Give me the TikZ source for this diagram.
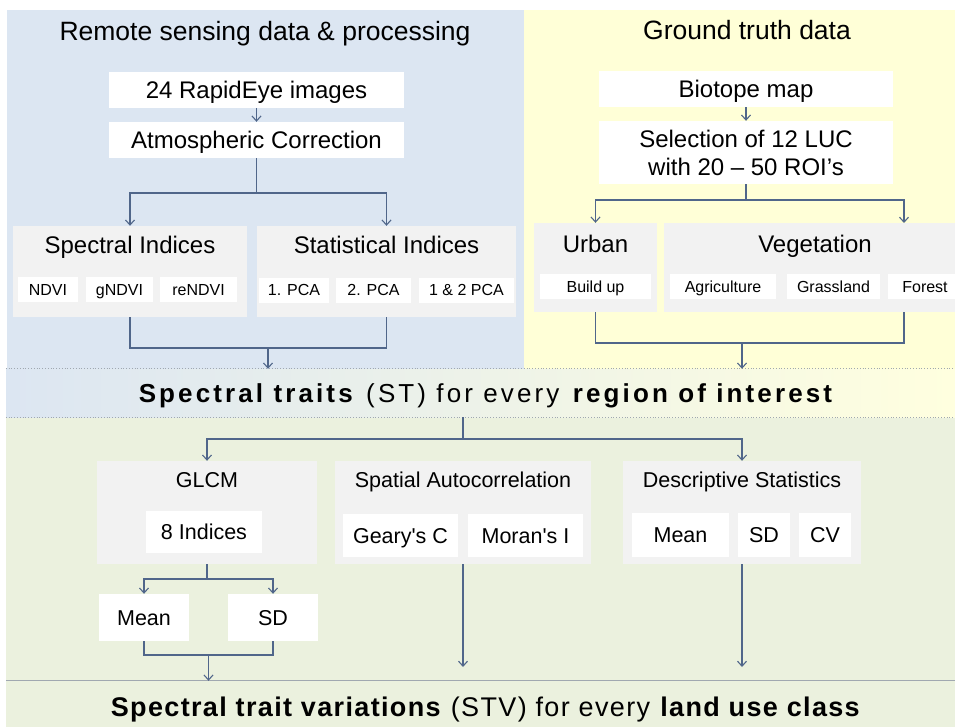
\documentclass[tikz,border=0pt]{standalone}
\usepackage{fontspec}
\setmainfont{Liberation Sans}
\newfontfamily\spacedA[LetterSpace=12]{Liberation Sans}
\newfontfamily\spacedB[LetterSpace=5]{Liberation Sans}
\newfontfamily\nomapfont[Ligatures=TeXOff]{Liberation Sans}
\usetikzlibrary{arrows.meta}
\definecolor{bgblue}{HTML}{DCE6F2}
\definecolor{bgyellow}{HTML}{FFFFD7}
\definecolor{bggreen}{HTML}{EBF1DE}
\definecolor{boxgray}{HTML}{F2F2F2}
\definecolor{ln}{HTML}{50668A}
\definecolor{dotc}{HTML}{A0A8B0}
\tikzset{
  wbox/.style={fill=white, inner sep=0pt},
  gbox/.style={fill=boxgray, inner sep=0pt},
  ttl/.style={inner sep=0pt, anchor=base, font=\fontsize{26.5}{30}\selectfont},
  btl/.style={inner sep=0pt, anchor=base},
  bigf/.style={font=\fontsize{24}{28}\selectfont},
  big/.style={font=\fontsize{24}{28}\selectfont, text height=17pt, text depth=0pt},
  small/.style={font=\fontsize{16}{19}\selectfont, text height=11.5pt, text depth=0pt},
  mid/.style={font=\fontsize{21.5}{25}\selectfont, text height=15.5pt, text depth=0pt},
  conn/.style={draw=ln, line width=1.1pt},
  arr/.style={conn, -{Straight Barb[length=5pt,width=9pt]}},
}
\newcommand{\sq}{{\nomapfont'}}
\begin{document}
\begin{tikzpicture}[x=1pt,y=-1pt]
\useasboundingbox (0,0) rectangle (955,727);
\clip (0,0) rectangle (955,727);
% backgrounds
\fill[bgblue] (7,10) rectangle (524,369);
\fill[bgyellow] (524,10) rectangle (955,369);
\fill[bggreen] (6,417) rectangle (955,681);
\node[minimum width=949pt, minimum height=48pt, inner sep=0pt, left color=bgblue, right color=bgyellow!80!white, shading angle=90] (stband) at (480.5,393) {};
\node[fill=bggreen, minimum width=949pt, minimum height=46pt, inner sep=0pt] (stvband) at (480.5,704) {};
\draw[dotc, dotted, line width=0.8pt] (stband.north west) -- (stband.north east);
\draw[dotc, dotted, line width=0.8pt] (stband.south west) -- (stband.south east);
\draw[dotc, line width=1pt] (stvband.north west) -- (stvband.north east);

% band texts
\node[inner sep=0pt, anchor=base, font=\fontsize{26}{30}\selectfont\spacedA] (sttext) at (487,402) {\textbf{Spectral traits} (ST) for every \textbf{region of interest}};
\node[inner sep=0pt, anchor=base, font=\fontsize{27}{30}\selectfont\spacedB] (stvtext) at (486,716) {\textbf{Spectral trait variations} (STV) for every \textbf{land use class}};

% ---------- top left ----------
\node[ttl] (title1) at (265,41) {Remote sensing data \& processing};
\node[wbox, big, minimum width=295pt, minimum height=36pt] (rapid) at (256.5,90) {24 RapidEye images};
\node[wbox, big, minimum width=295pt, minimum height=36pt] (atmo) at (256.5,140) {Atmospheric Correction};
\node[gbox, minimum width=234pt, minimum height=91pt] (spec) at (130,271.5) {};
\node[btl, bigf] (spect) at (130,254) {Spectral Indices};
\node[wbox, small, minimum width=60pt, minimum height=25pt] (ndvi) at (48,289.5) {NDVI};
\node[wbox, small, minimum width=67pt, minimum height=25pt] (gndvi) at (119.5,289.5) {gNDVI};
\node[wbox, small, minimum width=77pt, minimum height=25pt] (rendvi) at (198.5,289.5) {reNDVI};
\node[gbox, minimum width=259pt, minimum height=91pt] (stat) at (386.5,271.5) {};
\node[btl, bigf] (statt) at (386.5,254) {Statistical Indices};
\node[wbox, small, minimum width=70pt, minimum height=25pt] (pca1) at (294,290) {1. PCA};
\node[wbox, small, minimum width=75pt, minimum height=25pt] (pca2) at (373.5,290) {2. PCA};
\node[wbox, small, minimum width=95pt, minimum height=25pt] (pca12) at (466.5,290) {1 \& 2 PCA};

\draw[arr] (rapid) -- (atmo);
\coordinate (s1) at (256.5,193);
\draw[conn] (atmo.south) -- (s1);
\draw[arr] (s1) -| (spec.north);
\draw[arr] (s1) -| (stat.north);
\coordinate (m1) at (268,348);
\draw[conn] (spec.south) |- (m1);
\draw[conn] (stat.south) |- (m1);
\draw[arr] (m1) -- (m1 |- stband.north);

% ---------- top right ----------
\node[ttl] (title2) at (747,40) {Ground truth data};
\node[wbox, big, minimum width=294pt, minimum height=36pt] (bio) at (746,89) {Biotope map};
\node[wbox, bigf, minimum width=294pt, minimum height=63pt, align=center] (sel) at (746,152.5) {Selection of 12 LUC\\with 20 – 50 ROI’s};
\node[gbox, minimum width=123pt, minimum height=89pt] (urban) at (595.5,267.5) {};
\node[btl, bigf] (urbant) at (595.5,252) {Urban};
\node[wbox, small, minimum width=111pt, minimum height=25pt] (build) at (595.5,286.5) {Build up};
\node[gbox, minimum width=302pt, minimum height=89pt] (veg) at (815,267.5) {};
\node[btl, bigf] (vegt) at (815,252) {Vegetation};
\node[wbox, small, minimum width=106pt, minimum height=25pt] (agri) at (723,286.5) {Agriculture};
\node[wbox, small, minimum width=93pt, minimum height=25pt] (grass) at (833.5,286.5) {Grassland};
\node[wbox, small, minimum width=74pt, minimum height=25pt] (forest) at (925,286.5) {Forest};

\draw[arr] (bio) -- (sel);
\coordinate (s2) at (746,200);
\coordinate (vegin) at (904,223);
\coordinate (vegout) at (904,312);
\draw[conn] (sel.south) -- (s2);
\draw[arr] (s2) -| (urban.north);
\draw[arr] (s2) -| (vegin);
\coordinate (m2) at (742,343);
\draw[conn] (urban.south) |- (m2);
\draw[conn] (vegout) |- (m2);
\draw[arr] (m2) -- (m2 |- stband.north);

% ---------- bottom ----------
\node[gbox, minimum width=220pt, minimum height=103pt] (glcm) at (207,512.5) {};
\node[btl, font=\fontsize{21.5}{25}\selectfont] (glcmt) at (207,487) {GLCM};
\node[wbox, mid, minimum width=116pt, minimum height=42pt] (eight) at (204,532) {8 Indices};
\node[gbox, minimum width=256pt, minimum height=103pt] (sa) at (463,512.5) {};
\node[btl, font=\fontsize{21.5}{25}\selectfont] (sat) at (463,487) {Spatial Autocorrelation};
\node[wbox, mid, minimum width=115pt, minimum height=43pt] (geary) at (400.5,535.5) {Geary\sq s C};
\node[wbox, mid, minimum width=115pt, minimum height=43pt] (moran) at (525.5,535.5) {Moran\sq s I};
\node[gbox, minimum width=238pt, minimum height=103pt] (ds) at (742,512.5) {};
\node[btl, font=\fontsize{21.5}{25}\selectfont] (dst) at (742,487) {Descriptive Statistics};
\node[wbox, mid, minimum width=97pt, minimum height=44pt] (dmean) at (680.5,535) {Mean};
\node[wbox, mid, minimum width=52pt, minimum height=44pt] (dsd) at (764,535) {SD};
\node[wbox, mid, minimum width=52pt, minimum height=44pt] (dcv) at (825,535) {CV};
\node[wbox, mid, minimum width=90pt, minimum height=47pt] (gmean) at (144,617.5) {Mean};
\node[wbox, mid, minimum width=90pt, minimum height=47pt] (gsd) at (273,617.5) {SD};

\coordinate (s3) at (463,439);
\draw[conn] (sa.north |- stband.south) -- (s3);
\draw[arr] (s3) -| (glcm.north);
\draw[arr] (s3) -| (ds.north);
\coordinate (s4) at (207,579);
\draw[conn] (glcm.south) -- (s4);
\draw[arr] (s4) -| (gmean.north);
\draw[arr] (s4) -| (gsd.north);
\coordinate (m4) at (208.5,655);
\draw[conn] (gmean.south) |- (m4);
\draw[conn] (gsd.south) |- (m4);
\draw[arr] (m4) -- (m4 |- stvband.north);
\coordinate (saend) at (463,667);
\coordinate (dsend) at (742,667);
\draw[arr] (sa.south) -- (saend);
\draw[arr] (ds.south) -- (dsend);
\end{tikzpicture}
\end{document}
